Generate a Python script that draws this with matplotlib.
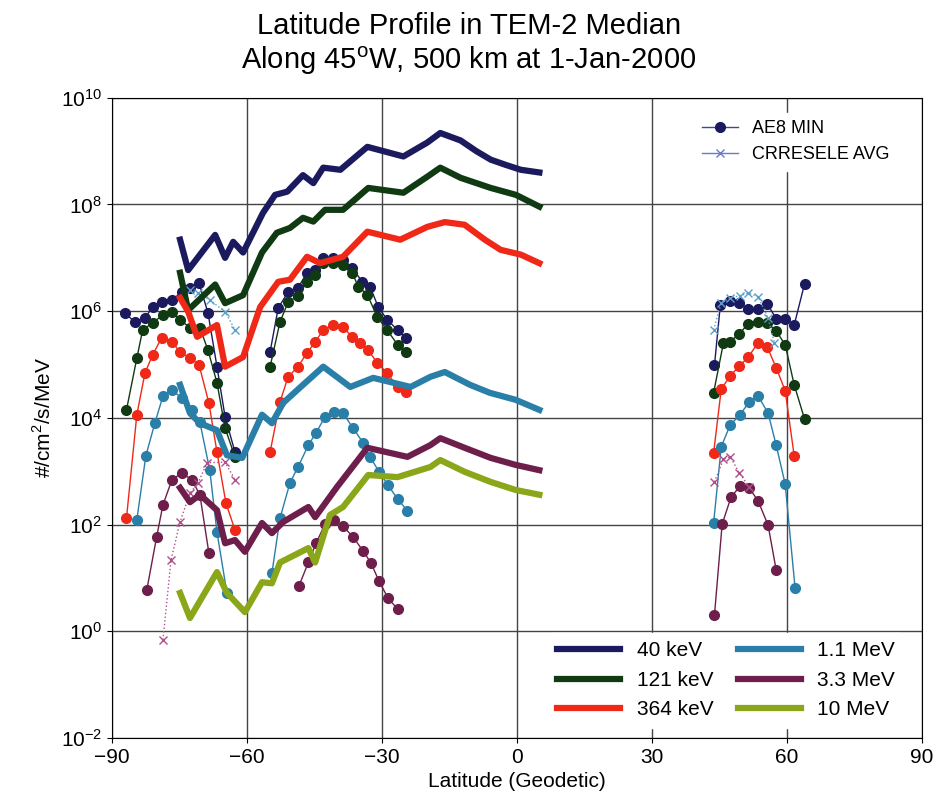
import numpy as np
import matplotlib.pyplot as plt
from matplotlib.lines import Line2D

plt.rcParams['font.family'] = ['Liberation Sans', 'DejaVu Sans']
plt.rcParams['mathtext.fontset'] = 'custom'
plt.rcParams['mathtext.rm'] = 'Liberation Sans'

# colours per energy
c40, c121, c364 = "#1c1a5e", "#0f3a12", "#f02818"
c11, c33, c10 = "#2a7fa8", "#6e1e4a", "#8aa619"

# TEM-2 median (thick lines): latitude, log10 flux
tem_lat = {
    "40 keV": [-74.8, -73, -67, -64.8, -63, -60.8, -56.4, -53.7, -51, -47.5, -45.2, -43, -39.2, -33.2, -25.2, -19.9, -17, -12.5, -9, -5.8, -2.4, 0.9, 5],
    "121 keV": [-74.8, -73, -67, -64.8, -60.8, -56.6, -53.3, -50.4, -47.5, -45.2, -42.6, -38.6, -33, -25.2, -19.9, -17, -12.5, -5.8, -0.2, 5],
    "364 keV": [-74.8, -73, -71, -66.6, -64.8, -60.8, -57, -53, -50.4, -46.6, -43.7, -38.6, -33.2, -25.9, -19.9, -16, -11.6, -7.1, -3.6, 0.9, 5],
    "1.1 MeV": [-74.8, -72.6, -70.4, -66.6, -64.4, -61, -56.6, -54.4, -51.9, -48.8, -43, -37, -31.9, -23.6, -19.2, -16, -10.4, -6, -0.3, 5],
    "3.3 MeV": [-74.8, -72.6, -70.4, -66.6, -64.8, -62.6, -60.4, -56.6, -54.4, -51.9, -46.3, -44.8, -39.9, -33.2, -24.3, -19.2, -17, -11.6, -5.8, -0.3, 5],
    "10 MeV": [-74.8, -72.6, -66.6, -64.4, -60.4, -56.6, -54.4, -52.6, -46.3, -44.8, -41.5, -38.6, -33, -26.5, -19.2, -17, -11.6, -5.8, -0.3, 5],
}
tem_log = {
    "40 keV": [7.34, 6.77, 7.43, 7.0, 7.3, 7.1, 7.84, 8.18, 8.24, 8.55, 8.4, 8.69, 8.65, 9.08, 8.9, 9.16, 9.34, 9.2, 9.0, 8.84, 8.74, 8.65, 8.6],
    "121 keV": [6.72, 6.02, 6.5, 6.15, 6.3, 7.1, 7.47, 7.56, 7.75, 7.68, 7.9, 7.9, 8.31, 8.22, 8.52, 8.69, 8.5, 8.31, 8.18, 7.96],
    "364 keV": [6.25, 5.99, 5.52, 5.74, 4.96, 5.14, 6.08, 6.55, 6.59, 7.02, 6.9, 7.02, 7.49, 7.34, 7.58, 7.67, 7.62, 7.34, 7.15, 7.06, 6.9],
    "1.1 MeV": [4.62, 4.09, 3.9, 3.77, 3.3, 3.25, 4.06, 3.9, 4.28, 4.52, 4.96, 4.58, 4.75, 4.58, 4.77, 4.86, 4.62, 4.47, 4.34, 4.15],
    "3.3 MeV": [2.69, 2.42, 2.56, 2.27, 1.65, 1.71, 1.49, 2.03, 1.84, 2.05, 2.33, 2.14, 2.71, 3.44, 3.27, 3.49, 3.62, 3.44, 3.25, 3.12, 3.02],
    "10 MeV": [0.72, 0.25, 1.11, 0.72, 0.36, 0.92, 0.9, 1.29, 1.56, 1.29, 2.18, 2.33, 2.93, 2.89, 3.08, 3.21, 2.99, 2.8, 2.65, 2.56],
}
tem_col = {"40 keV": c40, "121 keV": c121, "364 keV": c364,
           "1.1 MeV": c11, "3.3 MeV": c33, "10 MeV": c10}

# AE8 MIN (dots): segments of (latitudes, log10 flux, colour)
ae8 = [
    ([-87.1, -84.9, -82.6, -80.9, -78.9, -76.6, -74.4, -72.6, -70.6, -68.6, -66.6, -64.8, -62.6],
     [5.97, 5.8, 5.87, 6.08, 6.17, 6.21, 6.36, 6.44, 6.53, 5.97, 4.96, 4.02, 3.36], c40),
    ([-54.8, -53, -50.8, -48.6, -46.6, -44.8, -43, -40.8, -38.6, -36.6, -34.3, -32.6, -30.8, -28.8, -26.5, -24.7],
     [5.24, 6.06, 6.36, 6.44, 6.72, 6.77, 7.0, 7.0, 6.96, 6.81, 6.55, 6.46, 6.08, 5.84, 5.65, 5.5], c40),
    ([43.9, 45.2, 47.4, 49.4, 51.4, 53.6, 55.6, 57.6, 59.6, 61.6, 63.9],
     [4.99, 6.12, 6.19, 6.16, 6.04, 6.04, 6.14, 5.86, 5.86, 5.74, 6.51], c40),
    ([-86.7, -84.4, -83.1, -80.9, -78.6, -76.6, -74.8, -72.6, -70.4, -68.6, -66.6, -64.8, -62.6],
     [4.15, 5.12, 5.65, 5.78, 5.93, 5.99, 5.84, 5.69, 5.69, 5.27, 4.66, 3.81, 3.27], c121),
    ([-54.8, -52.6, -50.8, -48.6, -46.6, -44.8, -43, -40.8, -38.6, -36.6, -35.2, -33.2, -31, -28.8, -26.5, -24.7],
     [4.96, 5.8, 6.17, 6.29, 6.55, 6.68, 6.9, 6.9, 6.87, 6.72, 6.46, 6.31, 5.89, 5.65, 5.37, 5.24], c121),
    ([43.7, 45.9, 47.4, 49.4, 51.4, 53.6, 55.6, 57.6, 59.6, 61.6, 63.9],
     [4.47, 5.41, 5.43, 5.58, 5.76, 5.8, 5.78, 5.63, 5.37, 4.62, 3.98], c121),
    ([-86.7, -84.4, -82.6, -80.9, -78.9, -76.6, -74.8, -72.6, -70.6, -68.4, -66.6, -64.6, -62.6],
     [2.12, 4.06, 4.84, 5.18, 5.5, 5.42, 5.24, 5.12, 5.0, 4.28, 3.36, 2.4, 1.9], c364),
    ([-54.8, -52.6, -50.8, -48.6, -46.6, -44.8, -43, -40.8, -38.6, -36.6, -34.8, -33, -31, -28.8, -26.5, -24.7],
     [3.36, 4.3, 4.77, 4.96, 5.22, 5.42, 5.65, 5.74, 5.7, 5.52, 5.4, 5.27, 5.03, 4.84, 4.58, 4.49], c364),
    ([43.7, 45.4, 47.4, 49.4, 51.4, 53.6, 55.6, 57.6, 59.6, 61.6],
     [3.34, 4.54, 4.79, 4.97, 5.14, 5.41, 5.33, 4.94, 4.51, 3.29], c364),
    ([-84.4, -82.4, -80.4, -78.6, -76.6, -74.4, -72.2, -70.4, -68.2, -66.6, -64.4],
     [2.09, 3.29, 3.9, 4.41, 4.52, 4.37, 4.15, 3.92, 3.02, 1.86, 0.72], c11),
    ([-54.4, -52.6, -50.4, -48.6, -46.3, -44.6, -42.6, -40.6, -38.6, -36.4, -34.1, -32.6, -30.6, -28.6, -26.5, -24.3],
     [1.09, 2.12, 2.78, 3.08, 3.49, 3.72, 4.02, 4.11, 4.09, 3.81, 3.53, 3.27, 2.99, 2.74, 2.48, 2.26], c11),
    ([43.7, 45.4, 47.4, 49.6, 51.6, 53.6, 55.8, 57.6, 59.6, 61.8],
     [2.03, 3.46, 3.87, 4.06, 4.3, 4.41, 4.09, 3.49, 2.76, 0.81], c11),
    ([-82.2, -80, -78.6, -76.6, -74.4, -72.2, -70.4, -68.4],
     [0.77, 1.77, 2.37, 2.84, 2.97, 2.84, 2.56, 1.47], c33),
    ([-48.4, -46.3, -44.6, -42.6, -40.6, -38.6, -36.4, -34.1, -32.4, -30.6, -28.6, -26.4],
     [0.85, 1.29, 1.65, 2.01, 2.09, 1.97, 1.77, 1.5, 1.28, 0.94, 0.62, 0.41], c33),
    ([43.9, 45.6, 47.6, 49.6, 51.6, 53.6, 55.8, 57.6],
     [0.31, 2.01, 2.52, 2.72, 2.69, 2.44, 1.99, 1.15], c33),
]

# CRRESELE AVG (crosses)
crres = [
    ([-72.6, -70.8, -68.2, -64.8, -62.6], [6.4, 6.34, 6.21, 5.99, 5.65], "#5b9ec9"),
    ([43.7, 45.4, 47.4, 49.6, 51.4, 53.6, 55.8, 57.2], [5.65, 6.16, 6.25, 6.29, 6.34, 6.27, 5.87, 5.41], "#5b9ec9"),
    ([-78.6, -76.8, -74.8, -72.6, -70.8, -68.8, -64.8, -62.6], [-0.16, 1.34, 2.05, 2.59, 2.78, 3.16, 3.17, 2.84], "#b0508a"),
    ([43.9, 45.9, 47.4, 49.4, 51.6], [2.8, 3.23, 3.27, 2.97, 2.71], "#b0508a"),
]

fig = plt.figure(figsize=(9.38, 8.08), dpi=100)
ax = fig.add_axes([0.119, 0.0866, 0.864, 0.7924])

for lat, lg, col in ae8:
    ax.plot(lat, 10.0 ** np.array(lg), "-o", c=col, lw=1, ms=7)
for lat, lg, col in crres:
    ax.plot(lat, 10.0 ** np.array(lg), ":x", c=col, lw=1, ms=6)
handles = []
for name in tem_lat:
    h, = ax.plot(tem_lat[name], 10.0 ** np.array(tem_log[name]), c=tem_col[name], lw=4.5, label=name)
    handles.append(h)

ax.set_yscale("log")
ax.set_xlim(-90, 90)
ax.set_ylim(1e-2, 1e10)
ax.set_xticks(np.arange(-90, 91, 30))
ax.set_yticks([10.0 ** k for k in range(-2, 11, 2)])
ax.set_yticks([], minor=True)
ax.grid(True, c="#444444", lw=1)
ax.tick_params(labelsize=15)
ax.set_xlabel("Latitude (Geodetic)", fontsize=15)
ax.set_ylabel("#/cm$^2$/s/MeV", fontsize=15)
fig.suptitle("Latitude Profile in TEM-2 Median\nAlong 45$^{\\rm o}$W, 500 km at 1-Jan-2000",
             fontsize=21, y=0.985)

leg1 = ax.legend(handles=[Line2D([], [], c="#3a4a9a", marker="o", ms=7, lw=1, mfc="#1c1a5e", mec="#1c1a5e"),
                          Line2D([], [], c="#6a7ac8", marker="x", ms=6, lw=1)],
                 labels=["AE8 MIN", "CRRESELE AVG"], loc="upper right",
                 fontsize=13, frameon=True, framealpha=1, edgecolor="white",
                 bbox_to_anchor=(0.98, 0.99))
ax.add_artist(leg1)
ax.legend(handles=handles, ncol=2, loc="lower right", fontsize=15, framealpha=1,
          edgecolor="white", handlelength=3, columnspacing=1.2, bbox_to_anchor=(0.99, 0.0))

fig.savefig("out.png", dpi=100)
